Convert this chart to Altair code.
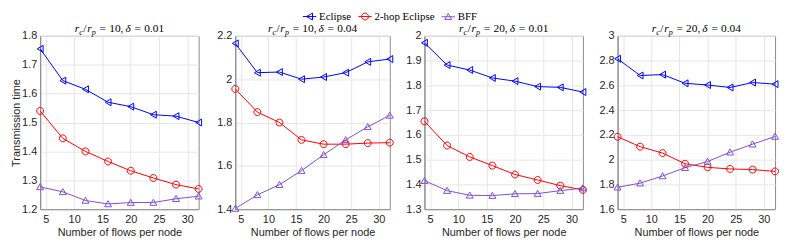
import altair as alt
import pandas as pd

# ---------------- data ----------------
x_vals = [4, 8, 12, 16, 20, 24, 28, 32]
series_names = ["Eclipse", "2-hop Eclipse", "BFF"]
series_colors = ["#0000ff", "#ff0000", "#7f4fd4"]

ratio_labels = ["10", "10", "20", "20"]
delta_labels = ["0.01", "0.04", "0.01", "0.04"]

p1_eclipse = [1.755, 1.645, 1.615, 1.570, 1.555, 1.527, 1.522, 1.500]
p1_twohop = [1.540, 1.445, 1.400, 1.365, 1.333, 1.308, 1.285, 1.270]
p1_bff = [1.277, 1.260, 1.230, 1.218, 1.223, 1.223, 1.236, 1.245]

p2_eclipse = [2.165, 2.030, 2.033, 2.000, 2.010, 2.030, 2.080, 2.093]
p2_twohop = [1.955, 1.848, 1.800, 1.720, 1.700, 1.700, 1.705, 1.707]
p2_bff = [1.403, 1.466, 1.513, 1.578, 1.651, 1.720, 1.780, 1.833]

p3_eclipse = [1.972, 1.882, 1.862, 1.830, 1.817, 1.795, 1.792, 1.773]
p3_twohop = [1.655, 1.557, 1.511, 1.476, 1.440, 1.418, 1.395, 1.378]
p3_bff = [1.415, 1.375, 1.356, 1.355, 1.362, 1.363, 1.375, 1.385]

p4_eclipse = [2.815, 2.680, 2.687, 2.617, 2.603, 2.583, 2.623, 2.610]
p4_twohop = [2.185, 2.105, 2.053, 1.967, 1.938, 1.925, 1.920, 1.905]
p4_bff = [1.777, 1.810, 1.868, 1.935, 1.985, 2.060, 2.125, 2.187]

panels_data = [
    [p1_eclipse, p1_twohop, p1_bff],
    [p2_eclipse, p2_twohop, p2_bff],
    [p3_eclipse, p3_twohop, p3_bff],
    [p4_eclipse, p4_twohop, p4_bff],
]

y_domains = [[1.2, 1.8], [1.4, 2.2], [1.3, 2.0], [1.6, 3.0]]
y_ticks = [
    [1.2, 1.3, 1.4, 1.5, 1.6, 1.7, 1.8],
    [1.4, 1.6, 1.8, 2.0, 2.2],
    [1.3, 1.4, 1.5, 1.6, 1.7, 1.8, 1.9, 2.0],
    [1.6, 1.8, 2.0, 2.2, 2.4, 2.6, 2.8, 3.0],
]
x_ticks = [5, 10, 15, 20, 25, 30]

# ---------------- layout / style ----------------
panel_widths = [160, 156, 160, 159]
axis_extents = [19, 21.8, 19.7, 19.6]
plot_height = 175

marker_paths = [
    "M0.85,-1L-0.85,0L0.85,1Z",
    "M1,0A1,1,0,1,1,-1,0A1,1,0,1,1,1,0Z",
    "M0,-0.95L1,0.8L-1,0.8Z",
]
legend_paths = [
    "M-1,0L1,0M0.44,-0.52L-0.44,0L0.44,0.52Z",
    "M-1,0L1,0M0.52,0A0.52,0.52,0,1,1,-0.52,0A0.52,0.52,0,1,1,0.52,0Z",
    "M-1,0L1,0M0,-0.5L0.52,0.42L-0.52,0.42Z",
]

rows = []
for pi, series_list in enumerate(panels_data):
    for name, vals in zip(series_names, series_list):
        for xv, yv in zip(x_vals, vals):
            rows.append({"panel": pi, "series": name, "x": xv, "y": yv})
df = pd.DataFrame(rows)

legend = alt.Legend(
    title=None,
    orient="none",
    legendX=264.5,
    legendY=-27,
    direction="horizontal",
    symbolSize=181,
    symbolStrokeWidth=1,
    labelFont="Liberation Serif",
    labelFontSize=11,
    labelColor="black",
    labelOffset=2,
    columnPadding=4,
    padding=0,
)

color_enc = alt.Color(
    "series:N",
    scale=alt.Scale(domain=series_names, range=series_colors),
    legend=legend,
)
legend_shape_enc = alt.Shape(
    "series:N",
    scale=alt.Scale(domain=series_names, range=legend_paths),
    legend=legend,
)

F = 11.5
S = 8.2


def title_layers(width, ratio, delta):
    pieces = [
        ("r", "italic", F, 0, 4.6),
        ("c", "italic", S, 2.5, 4.1),
        ("/", "normal", F, 0, 3.9),
        ("r", "italic", F, 0, 4.6),
        ("p", "italic", S, 2.5, 4.5),
        ("=", "normal", F, 0, 6.5 + 3.3),
        (ratio + ",", "normal", F, 0, 14.4 + 2.0),
        ("δ", "italic", F, 0, 5.8 + 3.3),
        ("=", "normal", F, 0, 6.5 + 3.3),
        (delta, "normal", F, 0, 20.1),
    ]
    gaps_before = [0, 0, 0, 0, 0, 3.3, 0, 0, 0, 0]
    total = sum(p[4] for p in pieces) + sum(gaps_before)
    xpos = width / 2 - total / 2
    layers = []
    for (txt, style, size, dy, adv), gap in zip(pieces, gaps_before):
        xpos += gap
        layers.append(
            alt.Chart(pd.DataFrame({"t": [txt]}))
            .mark_text(
                align="left",
                baseline="alphabetic",
                font="Liberation Serif",
                fontStyle=style,
                fontSize=size,
                color="#000000",
            )
            .encode(text="t:N", x=alt.value(xpos), y=alt.value(-3.5 + dy))
        )
        xpos += adv
    return layers


charts = []
for pi in range(4):
    d = df[df["panel"] == pi]
    w = panel_widths[pi]
    x_enc = alt.X(
        "x:Q",
        scale=alt.Scale(domain=[4, 32], nice=False, zero=False),
        axis=alt.Axis(values=x_ticks, title="Number of flows per node", grid=True),
    )
    y_axis_kwargs = dict(
        values=y_ticks[pi],
        format=".1~f",
        grid=True,
        minExtent=axis_extents[pi],
        title="Transmission time" if pi == 0 else None,
    )
    y_enc = alt.Y(
        "y:Q",
        scale=alt.Scale(domain=y_domains[pi], nice=False, zero=False),
        axis=alt.Axis(**y_axis_kwargs),
    )
    base = alt.Chart(d)
    layers = [
        base.mark_line(strokeWidth=1).encode(
            x=x_enc, y=y_enc, color=color_enc, detail="series:N"
        )
    ]
    for k, name in enumerate(series_names):
        layers.append(
            base.transform_filter(alt.datum.series == name)
            .mark_point(shape=marker_paths[k], filled=False, strokeWidth=1, size=49, opacity=1)
            .encode(x=x_enc, y=y_enc, color=color_enc)
        )
    if pi == 0:
        # carries the legend (line + marker symbols); draws no marks itself
        layers.append(
            base.transform_filter("false")
            .mark_point(filled=False, strokeWidth=1, opacity=1)
            .encode(x=x_enc, y=y_enc, color=color_enc, shape=legend_shape_enc)
        )
    layers += title_layers(w, ratio_labels[pi], delta_labels[pi])
    charts.append(alt.layer(*layers).properties(width=w, height=plot_height))

chart = (
    alt.hconcat(*charts, spacing=8)
    .properties(padding={"left": 1.5, "top": 0, "right": 0, "bottom": 0})
    .configure_view(stroke="#8c8c8c", strokeWidth=1)
    .configure_axis(
        domainColor="#8c8c8c",
        gridColor="#e6e6e6",
        labelFont="Liberation Sans",
        labelFontSize=11,
        labelColor="#262626",
        titleFont="Liberation Sans",
        titleFontSize=11,
        titleColor="#262626",
        titleFontWeight="normal",
        ticks=False,
    )
    .configure_axisX(labelPadding=4.5, titlePadding=2.5)
    .configure_axisY(labelPadding=3.5, titlePadding=0)
)

chart.save("out.html", embed_options={"renderer": "svg", "actions": False})
